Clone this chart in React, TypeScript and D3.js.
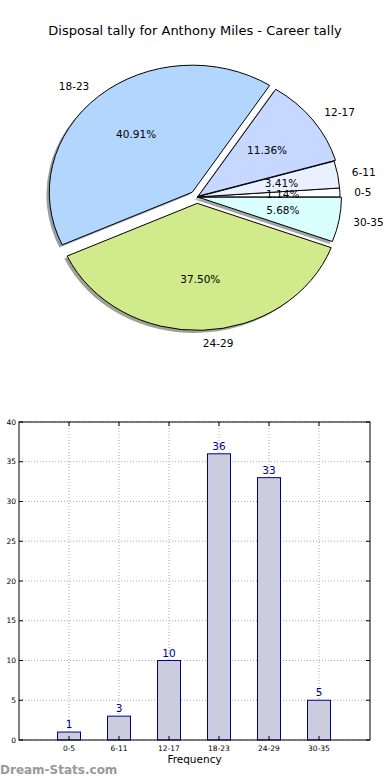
import React from "react";
import * as d3 from "d3";

const title = "Disposal tally for Anthony Miles - Career tally";
const categories = ["0-5", "6-11", "12-17", "18-23", "24-29", "30-35"];
const tallies = [1, 3, 10, 36, 33, 5];
const sliceColors = ["#ffffff", "#e9f0ff", "#c6d8ff", "#b3d6ff", "#d0ea8c", "#d9ffff"];
const explode = [0, 0, 0.012, 0.05, 0.05, 0.01];
const yTicks = [0, 5, 10, 15, 20, 25, 30, 35, 40];

const FONT = "'DejaVu Sans', sans-serif";

// pie geometry (matplotlib pie without equal aspect -> ellipse)
const cx = 197;
const cy = 197;
const rx = 143;
const ry = 127;

// bar axes box
const box = { left: 19, right: 370, top: 422, bottom: 740 };

const darken = (c: string) => {
  const col = d3.rgb(c);
  return d3.rgb(col.r * 0.3, col.g * 0.3, col.b * 0.3).toString();
};

const App = () => {
  const total = d3.sum(tallies);

  // matplotlib starts at 3 o'clock and goes counterclockwise
  const pie = d3
    .pie<number>()
    .sort(null)
    .startAngle(Math.PI / 2)
    .endAngle(Math.PI / 2 - 2 * Math.PI);
  const arcs = pie(tallies);
  const arc = d3.arc<any>().innerRadius(0).outerRadius(1);

  const slices = arcs.map((a, i) => {
    const mid = (a.startAngle + a.endAngle) / 2;
    const sx = Math.sin(mid);
    const sy = -Math.cos(mid);
    const ox = cx + explode[i] * rx * sx;
    const oy = cy + explode[i] * ry * sy;
    return { a, i, sx, sy, ox, oy };
  });

  const x = d3.scaleLinear().domain([0, 7.02]).range([box.left, box.right]);
  const y = d3.scaleLinear().domain([0, 40]).range([box.bottom, box.top]);
  const barW = x(0.46) - x(0);

  return (
    <svg
      width={390}
      height={780}
      style={{ position: "absolute", left: 0, top: 0, background: "#fff" }}
      fontFamily={FONT}
    >
      <rect width={390} height={780} fill="#fff" />
      <text x={195} y={35} textAnchor="middle" fontSize={13} fill="#000">
        {title}
      </text>

      {/* shadows first, below every wedge */}
      {slices.map((s) => (
        <path
          key={"sh" + s.i}
          d={arc(s.a) || ""}
          transform={`translate(${s.ox - 0.02 * rx},${s.oy + 0.02 * ry}) scale(${rx},${ry})`}
          fill={darken(sliceColors[s.i])}
          opacity={0.5}
        />
      ))}
      {slices.map((s) => (
        <path
          key={"w" + s.i}
          d={arc(s.a) || ""}
          transform={`translate(${s.ox},${s.oy}) scale(${rx},${ry})`}
          fill={sliceColors[s.i]}
          stroke="#000"
          strokeWidth={1}
          vectorEffect="non-scaling-stroke"
        />
      ))}
      {slices.map((s) => (
        <text
          key={"l" + s.i}
          x={s.ox + 1.1 * rx * s.sx}
          y={s.oy + 1.1 * ry * s.sy}
          dy="0.35em"
          textAnchor={s.sx > 0 ? "start" : "end"}
          fontSize={10.5}
          fill="#000"
        >
          {categories[s.i]}
        </text>
      ))}
      {slices.map((s) => (
        <text
          key={"p" + s.i}
          x={s.ox + 0.6 * rx * s.sx}
          y={s.oy + 0.6 * ry * s.sy}
          dy="0.35em"
          textAnchor="middle"
          fontSize={10.5}
          fill="#000"
        >
          {((tallies[s.i] / total) * 100).toFixed(2) + "%"}
        </text>
      ))}

      {/* bar chart */}
      <g>
        {yTicks.map((t) => (
          <line
            key={"gy" + t}
            x1={box.left}
            x2={box.right}
            y1={y(t)}
            y2={y(t)}
            stroke="#aaa"
            strokeDasharray="1,2"
          />
        ))}
        {categories.map((c, i) => (
          <line
            key={"gx" + c}
            x1={x(i + 1)}
            x2={x(i + 1)}
            y1={box.top}
            y2={box.bottom}
            stroke="#aaa"
            strokeDasharray="1,2"
          />
        ))}
        {tallies.map((v, i) => (
          <g key={"b" + i}>
            <rect
              x={x(i + 1) - barW / 2}
              y={y(v)}
              width={barW}
              height={y(0) - y(v)}
              fill="#ccccdf"
              stroke="#00008b"
              strokeWidth={1}
            />
            <text
              x={x(i + 1)}
              y={y(v) - 4}
              textAnchor="middle"
              fontSize={10.5}
              fill="#00008b"
            >
              {v}
            </text>
          </g>
        ))}
        <rect
          x={box.left}
          y={box.top}
          width={box.right - box.left}
          height={box.bottom - box.top}
          fill="none"
          stroke="#000"
          strokeWidth={1}
        />
        {yTicks.map((t) => (
          <g key={"ty" + t}>
            <line x1={box.left} x2={box.left + 4} y1={y(t)} y2={y(t)} stroke="#000" />
            <line x1={box.right} x2={box.right - 4} y1={y(t)} y2={y(t)} stroke="#000" />
            <text
              x={box.left - 3}
              y={y(t)}
              dy="0.35em"
              textAnchor="end"
              fontSize={7.5}
              fill="#000"
            >
              {t}
            </text>
          </g>
        ))}
        {categories.map((c, i) => (
          <g key={"tx" + c}>
            <line x1={x(i + 1)} x2={x(i + 1)} y1={box.bottom} y2={box.bottom - 4} stroke="#000" />
            <line x1={x(i + 1)} x2={x(i + 1)} y1={box.top} y2={box.top + 4} stroke="#000" />
            <text x={x(i + 1)} y={751} textAnchor="middle" fontSize={7.5} fill="#000">
              {c}
            </text>
          </g>
        ))}
        <text
          x={(box.left + box.right) / 2}
          y={763}
          textAnchor="middle"
          fontSize={10.5}
          fill="#000"
        >
          Frequency
        </text>
      </g>
      <text x={0} y={774} fontSize={12} fontWeight="bold" fill="#999">
        Dream-Stats.com
      </text>
    </svg>
  );
};

export default App;
